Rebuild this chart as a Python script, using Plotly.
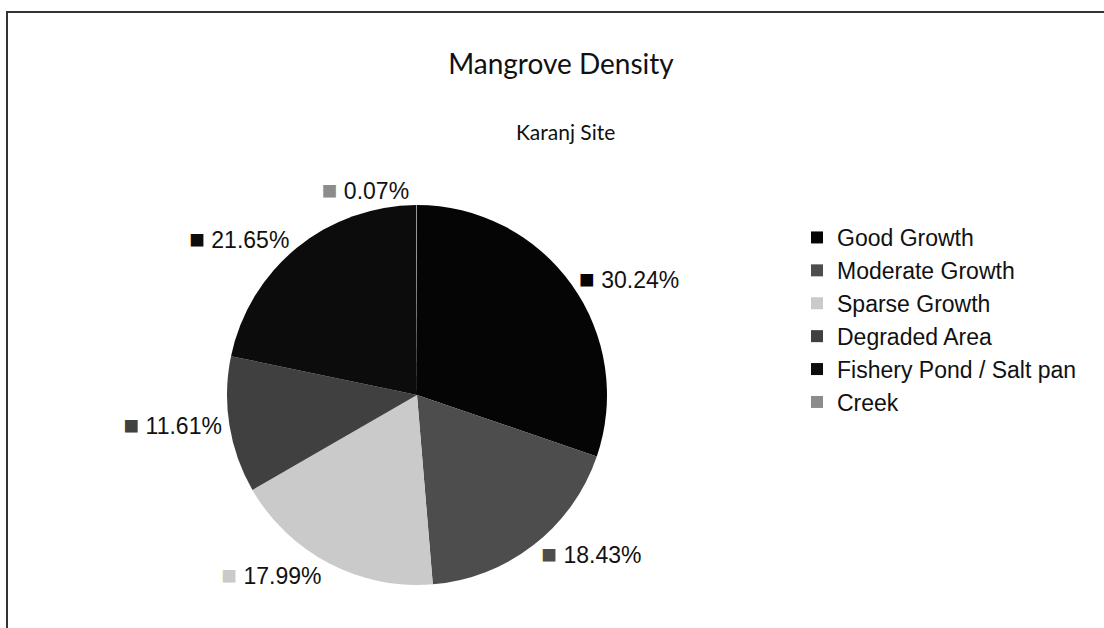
import plotly.graph_objects as go

categories = ["Good Growth", "Moderate Growth", "Sparse Growth", "Degraded Area",
              "Fishery Pond / Salt pan", "Creek"]
values = [30.24, 18.43, 17.99, 11.61, 21.65, 0.07]
colors = ["#050505", "#4d4d4d", "#cacaca", "#404040", "#0c0c0c", "#8c8c8c"]

W, H = 1104, 628
cx, cy, r = 417, 395, 190

fig = go.Figure(go.Pie(
    labels=categories,
    values=values,
    customdata=colors,
    sort=False,
    direction="clockwise",
    rotation=0,
    marker=dict(colors=colors, line=dict(width=0)),
    textposition="outside",
    texttemplate="<span style='color:%{customdata};font-size:26px'>■</span> %{percent:.2%}",
    textfont=dict(family="Liberation Sans, Arial, sans-serif", size=23, color="#111"),
    hoverinfo="label+percent",
    domain=dict(x=[(cx - r) / W, (cx + r) / W], y=[(H - cy - r) / H, (H - cy + r) / H]),
    automargin=False,
    showlegend=True,
))

fig.update_layout(
    width=W, height=H,
    margin=dict(l=0, r=0, t=0, b=0),
    paper_bgcolor="white",
    plot_bgcolor="white",
    title=dict(text="Mangrove Density", x=561 / W, xanchor="center",
               y=1 - 64 / H, yanchor="middle",
               font=dict(family="Lato, Open Sans, sans-serif", size=28, color="#111")),
    annotations=[dict(text="Karanj Site", x=565 / W, y=1 - 131 / H, xref="paper", yref="paper",
                      xanchor="center", yanchor="middle", showarrow=False,
                      font=dict(family="Lato, Open Sans, sans-serif", size=21, color="#111"))],
    legend=dict(x=797 / W, y=1 - 216 / H, xanchor="left", yanchor="top",
                font=dict(family="Liberation Sans, Arial, sans-serif", size=23, color="#111"),
                bgcolor="rgba(0,0,0,0)", itemwidth=30),
    shapes=[dict(type="rect", xref="paper", yref="paper",
                 x0=7 / W, x1=1.02, y0=-0.02, y1=1 - 12 / H,
                 line=dict(color="#333", width=2))],
)

fig.write_html("out.html", config={"displayModeBar": False},
               post_script="document.body.style.margin='0';")
